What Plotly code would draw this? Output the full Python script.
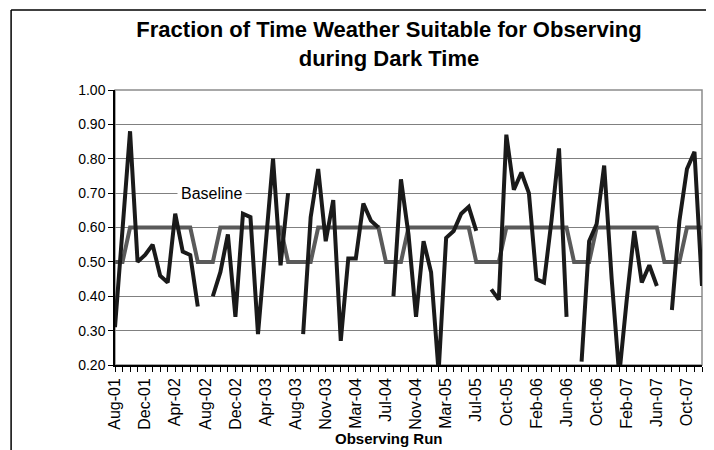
import plotly.graph_objects as go

run_labels = [
    "Aug-01", "Sep-01", "Oct-01", "Nov-01", "Dec-01", "Jan-02", "Feb-02", "Mar-02",
    "Apr-02", "May-02", "Jun-02", "Jul-02", "Aug-02", "Sep-02", "Oct-02", "Nov-02",
    "Dec-02", "Jan-03", "Feb-03", "Mar-03", "Apr-03", "May-03", "Jun-03", "Jul-03",
    "Aug-03", "Sep-03", "Sep-03", "Oct-03", "Nov-03", "Dec-03", "Jan-04", "Feb-04",
    "Mar-04", "Apr-04", "May-04", "Jun-04", "Jul-04", "Aug-04", "Sep-04", "Oct-04",
    "Nov-04", "Dec-04", "Jan-05", "Feb-05", "Mar-05", "Apr-05", "May-05", "Jun-05",
    "Jul-05", "Jul-05", "Aug-05", "Sep-05", "Oct-05", "Nov-05", "Dec-05", "Jan-06",
    "Feb-06", "Mar-06", "Apr-06", "May-06", "Jun-06", "Jul-06", "Aug-06", "Sep-06",
    "Oct-06", "Nov-06", "Dec-06", "Jan-07", "Feb-07", "Mar-07", "Apr-07", "May-07",
    "Jun-07", "Jul-07", "Aug-07", "Sep-07", "Oct-07", "Nov-07", "Dec-07",
]

observed = [
    0.31, 0.59, 0.88, 0.50, 0.52, 0.55, 0.46, 0.44, 0.64, 0.53, 0.52, 0.37,
    None, 0.40, 0.47, 0.58, 0.34, 0.64, 0.63, 0.29, 0.55, 0.80, 0.49, 0.70,
    None, 0.29, 0.63, 0.77, 0.56, 0.68, 0.27, 0.51, 0.51, 0.67, 0.62, 0.60,
    None, 0.40, 0.74, 0.58, 0.34, 0.56, 0.47, 0.18, 0.57, 0.59, 0.64, 0.66, 0.59,
    None, 0.42, 0.39, 0.87, 0.71, 0.76, 0.70, 0.45, 0.44, 0.62, 0.83, 0.34,
    None, 0.21, 0.56, 0.61, 0.78, 0.45, 0.17, 0.39, 0.59, 0.44, 0.49, 0.43,
    None, 0.36, 0.62, 0.77, 0.82, 0.43,
]

baseline = (
    [0.5] * 2 + [0.6] * 9 + [0.5] * 3 + [0.6] * 9 + [0.5] * 4 + [0.6] * 9
    + [0.5] * 3 + [0.6] * 9 + [0.5] * 4 + [0.6] * 9 + [0.5] * 3 + [0.6] * 9
    + [0.5] * 3 + [0.6] * 3
)

title_text = "Fraction of Time Weather Suitable for Observing<br>during Dark Time"
x_title = "Observing Run"
baseline_label = "Baseline"

idx = list(range(len(run_labels)))
tick_text = [lab if i % 4 == 0 else "" for i, lab in enumerate(run_labels)]

FONT = "Arial, Liberation Sans, sans-serif"

fig = go.Figure()
fig.add_trace(go.Scatter(
    x=idx, y=baseline, mode="lines", name="Baseline",
    line=dict(color="#5a5a5a", width=4), showlegend=False,
))
fig.add_trace(go.Scatter(
    x=idx, y=observed, mode="lines", name="Observed",
    line=dict(color="#1a1a1a", width=4), connectgaps=False, showlegend=False,
))

fig.add_annotation(
    x=12.8, y=0.70, xref="x", yref="y", text=baseline_label, showarrow=False,
    font=dict(family=FONT, size=16, color="#000000"), bgcolor="#ffffff",
    borderpad=3,
)
fig.add_annotation(
    x=(381 - 107) / 587, y=(357 - 430) / 275, xref="paper", yref="paper",
    text=f"<b>{x_title}</b>", showarrow=False, yanchor="middle",
    font=dict(family=FONT, size=15, color="#000000"),
)

# plot-area border (gray) and chart frame (black)
fig.add_shape(type="rect", xref="paper", yref="paper", x0=0, y0=0, x1=1, y1=1,
              line=dict(color="#8c8c8c", width=1.5), layer="below")
fig.add_shape(type="line", xref="paper", yref="paper", x0=-0.177, y0=1.291, x1=1.05, y1=1.291,
              line=dict(color="#000000", width=1.5))
fig.add_shape(type="line", xref="paper", yref="paper", x0=-0.177, y0=1.291, x1=-0.177, y1=-0.4,
              line=dict(color="#000000", width=1.5))

fig.update_layout(
    width=714, height=450,
    margin=dict(l=107, r=20, t=82, b=93),
    paper_bgcolor="#ffffff", plot_bgcolor="#ffffff",
    font=dict(family=FONT, size=15, color="#000000"),
    title=dict(text=f"<b>{title_text}</b>", x=381 / 714, xanchor="center",
               y=1 - 29 / 450, yanchor="top", yref="container",
               font=dict(family=FONT, size=22, color="#000000")),
    xaxis=dict(
        range=[0, 78], tickmode="array", tickvals=idx, ticktext=tick_text,
        tickangle=-90, ticks="outside", ticklen=5, tickcolor="#000000",
        showline=True, linecolor="#000000", linewidth=1.5,
        showgrid=False, zeroline=False,
        tickfont=dict(family=FONT, size=16),
    ),
    yaxis=dict(
        range=[0.2, 1.0], tick0=0.2, dtick=0.1, tickformat=".2f",
        ticks="outside", ticklen=5, tickcolor="#000000",
        showline=True, linecolor="#000000", linewidth=1.5,
        showgrid=True, gridcolor="#808080", gridwidth=1, zeroline=False,
        tickfont=dict(family=FONT, size=14),
    ),
)

fig.write_html("out.html")
